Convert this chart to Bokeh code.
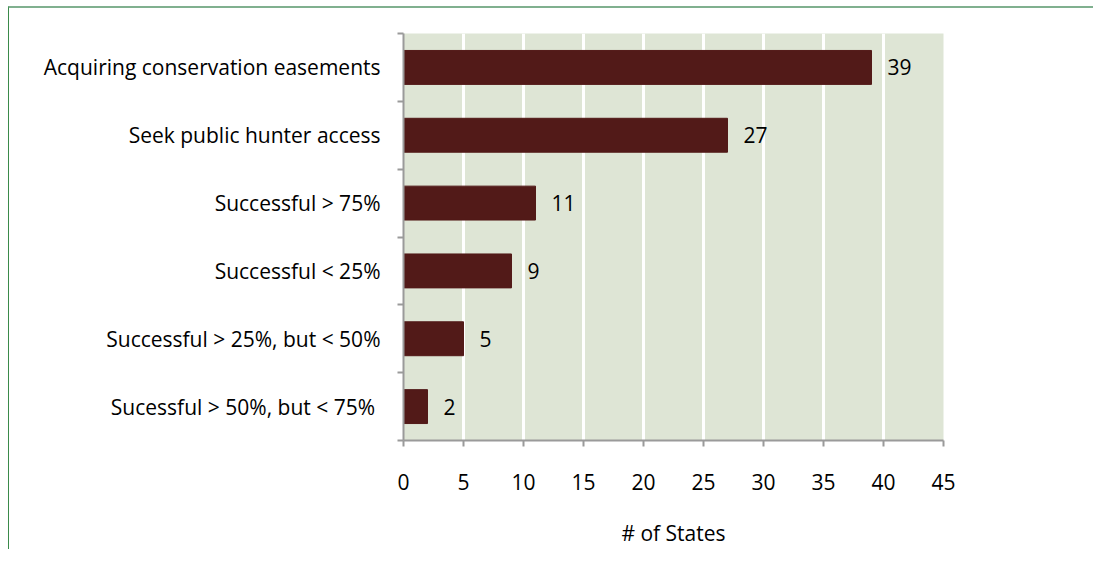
from bokeh.plotting import figure
from bokeh.models import ColumnDataSource, FixedTicker, Range1d
from bokeh.core.properties import value
from bokeh.embed import file_html
from bokeh.resources import INLINE

categories = [
    "Acquiring conservation easements",
    "Seek public hunter access",
    "Successful > 75%",
    "Successful < 25%",
    "Successful > 25%, but < 50%",
    "Sucessful > 50%, but  < 75%",
]
counts = [39, 27, 11, 9, 5, 2]
series_name = "# of States"
x_ticks = [0, 5, 10, 15, 20, 25, 30, 35, 40, 45]

FONT = "Open Sans"
FS = "21px"
BAR = "#521a18"
n = len(categories)
ypos = [n - 0.5 - i for i in range(n)]

src = ColumnDataSource(dict(y=ypos, x=counts, lab=[str(c) for c in counts], cat=categories))

p = figure(frame_width=540, frame_height=407,
           output_backend="svg", toolbar_location=None,
           x_range=Range1d(0, 45), y_range=Range1d(0, n),
           min_border_left=394, min_border_right=150, min_border_top=25, min_border_bottom=0,
           background_fill_color="#dee5d5", border_fill_color="white",
           styles={"border-top": "2px solid #80b08f", "border-left": "1px solid #3a8a4a",
                   "margin-top": "6px", "margin-left": "8px"})
p.outline_line_color = None

r = p.hbar(y="y", right="x", left=0, height=0.5, source=src, fill_color=BAR, line_color=BAR)
p.text(x="x", y="y", text="lab", source=src, x_offset=16, text_baseline="middle",
       text_align="left", text_font=value(FONT), text_font_size=FS, text_color="black")

# x axis
p.xaxis.ticker = FixedTicker(ticks=x_ticks)
p.xaxis.axis_line_color = "#9a9a9a"
p.xaxis.axis_line_width = 2
p.xaxis.major_tick_line_color = "#9a9a9a"
p.xaxis.major_tick_line_width = 2
p.xaxis.major_tick_out = 6
p.xaxis.major_tick_in = 0
p.xaxis.minor_tick_line_color = None
p.xaxis.major_label_standoff = 27
p.xaxis.major_label_text_font = FONT
p.xaxis.major_label_text_font_size = FS
p.xaxis.major_label_text_color = "black"
# series name shown under the axis, where the reference has its legend
p.xaxis.axis_label = series_name
p.xaxis.axis_label_standoff = 26
p.xaxis.axis_label_text_font = FONT
p.xaxis.axis_label_text_font_size = FS
p.xaxis.axis_label_text_font_style = "normal"
p.xaxis.axis_label_text_color = "black"

# y axis
p.yaxis.ticker = FixedTicker(ticks=ypos, minor_ticks=list(range(n + 1)))
p.yaxis.major_label_overrides = {y: c for y, c in zip(ypos, categories)}
p.yaxis.axis_line_color = "#9a9a9a"
p.yaxis.axis_line_width = 2
p.yaxis.major_tick_line_color = None
p.yaxis.major_tick_out = 0
p.yaxis.major_tick_in = 0
p.yaxis.minor_tick_line_color = "#9a9a9a"
p.yaxis.minor_tick_line_width = 2
p.yaxis.minor_tick_out = 6
p.yaxis.minor_tick_in = 0
p.yaxis.major_label_standoff = 17
p.yaxis.major_label_text_font = FONT
p.yaxis.major_label_text_font_size = FS
p.yaxis.major_label_text_color = "black"

p.xgrid.ticker = FixedTicker(ticks=x_ticks)
p.xgrid.grid_line_color = "white"
p.xgrid.grid_line_width = 3
p.ygrid.grid_line_color = None

open("out.html", "w").write(file_html(p, INLINE))
